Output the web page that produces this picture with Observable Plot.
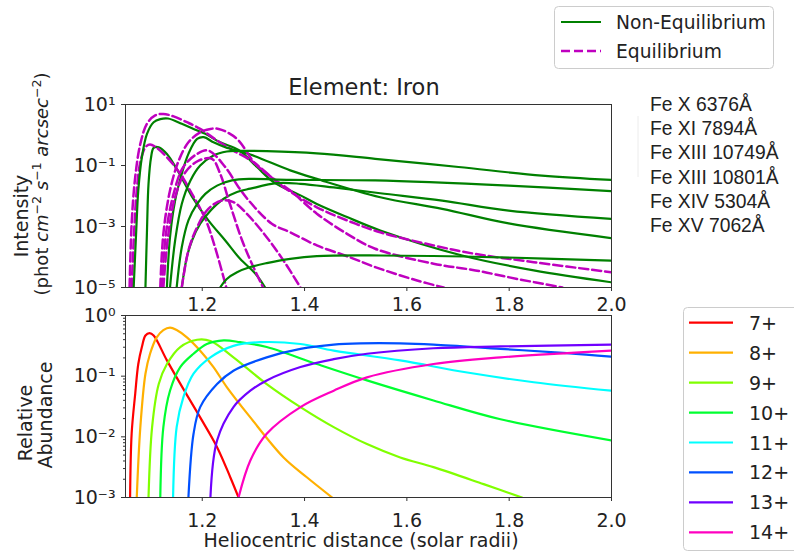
<!DOCTYPE html>
<html><head><meta charset="utf-8">
<script src="https://cdn.jsdelivr.net/npm/d3@7"></script>
<script src="https://cdn.jsdelivr.net/npm/@observablehq/plot@0.6"></script>
<style>
body{margin:0;background:#fff;}
#c{position:relative;width:794px;height:553px;overflow:hidden;background:#fff;}
#c svg{position:absolute;left:0;}
</style></head><body><div id="c"></div>
<script>
// ---------- DATA (heliocentric distance in solar radii; values stored as log10) ----------
// Top panel: Non-Equilibrium intensities (solid green)
const neQ_x   = [1.089,1.092,1.095,1.100,1.105,1.115,1.131,1.150,1.180,1.212,1.245,1.274,1.304,1.323];
const neQ_log = [-5,-3.13,-1.60,-0.73,-0.42,-0.40,-0.62,-1.11,-2.02,-2.80,-3.46,-4.06,-4.55,-5];
const neA_x   = [1.066,1.071,1.075,1.082,1.092,1.105,1.118,1.133,1.160,1.183,1.206,1.235,1.271,1.307,1.340,1.392,1.424,1.483,1.548,1.708,1.848,2.0];
const neA_log = [-5,-3.13,-1.82,-0.73,0.04,0.42,0.52,0.54,0.37,0.20,0.04,-0.24,-0.49,-1.05,-1.55,-1.98,-2.26,-2.69,-3.13,-3.95,-4.44,-4.83];
const neB_x   = [1.131,1.137,1.147,1.160,1.173,1.190,1.203,1.222,1.245,1.294,1.372,1.424,1.548,1.669,1.799,2.0];
const neB_log = [-5,-3.35,-2.15,-1.27,-0.62,-0.13,-0.07,-0.24,-0.40,-0.64,-1.16,-1.44,-2.04,-2.42,-2.90,-3.38];
const neC_x   = [1.137,1.147,1.160,1.177,1.196,1.222,1.248,1.271,1.326,1.424,1.538,1.701,1.864,2.0];
const neC_log = [-5,-3.46,-2.26,-1.49,-1.00,-0.67,-0.54,-0.52,-0.53,-0.60,-0.78,-1.05,-1.33,-1.47];
const neD_x   = [1.160,1.170,1.180,1.196,1.216,1.242,1.268,1.294,1.346,1.392,1.457,1.548,1.669,1.799,2.0];
const neD_log = [-5,-4.0,-3.46,-2.91,-2.48,-2.09,-1.87,-1.76,-1.58,-1.60,-1.72,-1.91,-2.15,-2.48,-2.75];
const neE_x   = [1.150,1.160,1.173,1.190,1.206,1.229,1.258,1.294,1.372,1.538,1.799,2.0];
const neE_log = [-5,-3.68,-2.80,-2.26,-1.93,-1.66,-1.49,-1.44,-1.47,-1.49,-1.66,-1.84];
const neF_x   = [1.235,1.248,1.268,1.294,1.326,1.372,1.424,1.548,1.783,2.0];
const neF_log = [-5,-4.72,-4.50,-4.33,-4.20,-4.06,-3.97,-3.95,-4.01,-4.12];

// Top panel: Equilibrium intensities (dashed magenta)
const eq0_x   = [1.062,1.067,1.072,1.079,1.089,1.098,1.111,1.131,1.157,1.180,1.206,1.225,1.247];
const eq0_log = [-5,-3.13,-1.82,-0.89,-0.40,-0.31,-0.42,-0.73,-1.27,-1.93,-2.75,-3.68,-5];
const eq1_x   = [1.058,1.062,1.069,1.079,1.092,1.108,1.124,1.144,1.170,1.196,1.229,1.261,1.300,1.359,1.424,1.483,1.548,1.652,1.734,1.848,2.0];
const eq1_log = [-5,-2.91,-1.38,-0.29,0.37,0.64,0.69,0.61,0.42,0.20,-0.18,-0.51,-0.89,-1.71,-2.37,-2.80,-3.19,-3.62,-3.90,-4.17,-4.50];
const eq2_x   = [1.118,1.124,1.137,1.154,1.173,1.196,1.216,1.232,1.252,1.271,1.304,1.340,1.372,1.424,1.483,1.538,1.652,1.734,1.816,1.904];
const eq2_log = [-5,-3.24,-1.82,-0.84,-0.24,0.09,0.20,0.20,0.06,-0.18,-0.95,-1.44,-1.82,-2.58,-3.24,-3.73,-4.22,-4.44,-4.72,-5];
const eq3_x   = [1.121,1.129,1.144,1.163,1.190,1.212,1.245,1.271,1.291,1.336,1.372,1.424,1.489,1.538,1.620,1.672];
const eq3_log = [-5,-3.24,-1.93,-1.05,-0.62,-0.51,-1.05,-1.71,-2.15,-2.91,-3.19,-3.62,-4.01,-4.33,-4.77,-5];
const eq4_x   = [1.124,1.133,1.147,1.167,1.193,1.219,1.235,1.252,1.278,1.300,1.319];
const eq4_log = [-5,-3.35,-2.04,-1.22,-0.84,-0.78,-1.27,-2.15,-3.46,-4.33,-5];
const eq5_x   = [1.160,1.173,1.190,1.212,1.238,1.261,1.287,1.326,1.359,1.392];
const eq5_log = [-5,-3.79,-3.02,-2.42,-2.15,-2.20,-2.58,-3.35,-4.12,-5];

// Bottom panel: relative abundance of Fe ions
const ionLabels = ["7+","8+","9+","10+","11+","12+","13+","14+"];
const ionColors = ["#ff0000","#ffb000","#80ff00","#00ff30","#00ffff","#0050ff","#7000ff","#ff00c0"];
const ab7_x   = [1.059,1.062,1.069,1.075,1.082,1.089,1.097,1.105,1.131,1.163,1.196,1.229,1.255,1.271];
const ab7_log = [-3,-1.95,-1.29,-0.80,-0.52,-0.33,-0.29,-0.33,-0.74,-1.21,-1.68,-2.17,-2.67,-3.0];
const ab8_x   = [1.072,1.079,1.089,1.098,1.111,1.124,1.137,1.150,1.170,1.196,1.222,1.248,1.294,1.359,1.405,1.454];
const ab8_log = [-3,-1.84,-0.96,-0.63,-0.36,-0.24,-0.20,-0.24,-0.36,-0.58,-0.85,-1.18,-1.68,-2.34,-2.67,-3.0];
const ab9_x   = [1.095,1.102,1.115,1.131,1.157,1.190,1.216,1.261,1.326,1.392,1.457,1.522,1.587,1.652,1.750,1.825];
const ab9_log = [-3,-1.84,-1.13,-0.80,-0.52,-0.40,-0.42,-0.69,-1.13,-1.51,-1.84,-2.12,-2.34,-2.50,-2.78,-3.0];
const ab10_x  = [1.118,1.124,1.137,1.157,1.183,1.209,1.242,1.274,1.326,1.424,1.522,1.652,1.783,2.0];
const ab10_log= [-3,-1.84,-1.24,-0.85,-0.63,-0.47,-0.41,-0.44,-0.52,-0.80,-1.07,-1.40,-1.71,-2.06];
const ab11_x  = [1.143,1.150,1.163,1.183,1.216,1.261,1.313,1.392,1.457,1.587,1.718,1.848,2.0];
const ab11_log= [-3,-1.84,-1.35,-0.96,-0.69,-0.50,-0.44,-0.47,-0.58,-0.74,-0.94,-1.10,-1.24];
const ab12_x  = [1.173,1.183,1.196,1.229,1.261,1.326,1.392,1.457,1.509,1.587,1.652,1.783,1.913,2.0];
const ab12_log= [-3,-1.95,-1.51,-1.13,-0.91,-0.69,-0.55,-0.48,-0.46,-0.46,-0.48,-0.55,-0.62,-0.68];
const ab13_x  = [1.216,1.229,1.261,1.294,1.326,1.392,1.457,1.522,1.652,1.783,2.0];
const ab13_log= [-3,-2.06,-1.51,-1.24,-1.07,-0.85,-0.72,-0.63,-0.54,-0.51,-0.48];
const ab14_x  = [1.271,1.294,1.326,1.392,1.457,1.522,1.652,1.783,1.913,2.0];
const ab14_log= [-3,-2.39,-1.95,-1.51,-1.24,-1.02,-0.80,-0.69,-0.62,-0.58];

// Tick values and labels
const xTicks = [1.2, 1.4, 1.6, 1.8, 2.0];
const xTickLabels = ["1.2","1.4","1.6","1.8","2.0"];
const topYTicks = [10, 0.1, 1e-3, 1e-5];
const topYTickLabels = ["10\u00b9","10\u207b\u00b9","10\u207b\u00b3","10\u207b\u2075"];
const botYTicks = [1, 0.1, 0.01, 1e-3];
const botYTickLabels = ["10\u2070","10\u207b\u00b9","10\u207b\u00b2","10\u207b\u00b3"];
const lineLabels = ["Fe X 6376\u00c5","Fe XI 7894\u00c5","Fe XIII 10749\u00c5","Fe XIII 10801\u00c5","Fe XIV 5304\u00c5","Fe XV 7062\u00c5"];

// ---------- BUILD ----------
const toRows = (xs, ls, s) => xs.map((x, i) => ({x, y: Math.pow(10, ls[i]), s}));
const neSeries = [[neQ_x,neQ_log],[neA_x,neA_log],[neB_x,neB_log],[neC_x,neC_log],[neD_x,neD_log],[neE_x,neE_log],[neF_x,neF_log]];
const eqSeries = [[eq0_x,eq0_log],[eq1_x,eq1_log],[eq2_x,eq2_log],[eq3_x,eq3_log],[eq4_x,eq4_log],[eq5_x,eq5_log]];
const abSeries = [[ab7_x,ab7_log],[ab8_x,ab8_log],[ab9_x,ab9_log],[ab10_x,ab10_log],[ab11_x,ab11_log],[ab12_x,ab12_log],[ab13_x,ab13_log],[ab14_x,ab14_log]];

const GREEN = "#008000", MAG = "#bf00bf", AX = "#333";
const CURVE = "catmull-rom";
const fmtFrom = (ticks, labels) => d => { const i = ticks.findIndex(t => Math.abs(t - d) / t < 1e-6); return i >= 0 ? labels[i] : ""; };
const xFmt = fmtFrom(xTicks, xTickLabels);
const baseStyle = {fontFamily: "DejaVu Sans", fontSize: "19px", color: "#222", background: "transparent", overflow: "visible"};

const topMarks = [];
const nTop = Math.max(neSeries.length, eqSeries.length);
for (let i = 0; i < nTop; i++) {
  if (neSeries[i]) topMarks.push(Plot.line(toRows(neSeries[i][0], neSeries[i][1], "ne"+i), {x:"x", y:"y", stroke: GREEN, strokeWidth: 2.2, curve: CURVE, clip: true}));
  if (eqSeries[i]) topMarks.push(Plot.line(toRows(eqSeries[i][0], eqSeries[i][1], "eq"+i), {x:"x", y:"y", stroke: MAG, strokeWidth: 2.5, strokeDasharray: "9,4", curve: CURVE, clip: true}));
}

const topPlot = Plot.plot({
  width: 794, height: 310,
  marginLeft: 125, marginRight: 183, marginTop: 104, marginBottom: 23,
  style: baseStyle,
  x: {domain: [1.05, 2.0]},
  y: {type: "log", domain: [1e-5, 10]},
  marks: [
    ...topMarks,
    Plot.frame({stroke: AX, strokeWidth: 1}),
    Plot.axisX({ticks: xTicks, tickFormat: xFmt, tickSize: 4, tickPadding: 6, label: null, stroke: AX}),
    Plot.axisY({ticks: topYTicks, tickFormat: fmtFrom(topYTicks, topYTickLabels), tickSize: 4, tickPadding: 6, label: null, stroke: AX})
  ]
});
topPlot.style.top = "0px";

const minorTicks = [];
for (const e of [-3, -2, -1]) for (let k = 2; k <= 9; k++) minorTicks.push(k * Math.pow(10, e));

const botPlot = Plot.plot({
  width: 794, height: 243,
  marginLeft: 125, marginRight: 183, marginTop: 5, marginBottom: 56,
  style: baseStyle,
  x: {domain: [1.05, 2.0]},
  y: {type: "log", domain: [1e-3, 1]},
  marks: [
    ...abSeries.map((s, i) => Plot.line(toRows(s[0], s[1], ionLabels[i]), {x:"x", y:"y", stroke: ionColors[i], strokeWidth: 2.2, curve: CURVE, clip: true})),
    Plot.frame({stroke: AX, strokeWidth: 1}),
    Plot.axisX({ticks: xTicks, tickFormat: xFmt, tickSize: 4, tickPadding: 12, label: null, stroke: AX}),
    Plot.axisY({ticks: minorTicks, tickFormat: () => "", tickSize: 2, label: null, stroke: AX}),
    Plot.axisY({ticks: botYTicks, tickFormat: fmtFrom(botYTicks, botYTickLabels), tickSize: 4, tickPadding: 6, label: null, stroke: AX})
  ]
});
botPlot.style.top = "310px";

const c = document.getElementById("c");
c.appendChild(topPlot);
c.appendChild(botPlot);

// ---------- OVERLAY TEXT & LEGENDS ----------
const ov = d3.select(c).append("svg").attr("width", 794).attr("height", 553)
  .style("top", "0px").style("font-family", "DejaVu Sans").style("fill", "#222");

ov.append("text").attr("x", 364).attr("y", 95).attr("text-anchor", "middle").style("font-size", "22.5px").text("Element: Iron");
ov.append("text").attr("x", 361).attr("y", 547).attr("text-anchor", "middle").style("font-size", "19px").text("Heliocentric distance (solar radii)");

const rot = (x, y) => `translate(${x},${y}) rotate(-90)`;
ov.append("text").attr("transform", rot(28, 216)).attr("text-anchor", "middle").style("font-size", "19px").text("Intensity");
const unit = ov.append("text").attr("transform", rot(48, 184)).attr("text-anchor", "middle").style("font-size", "18px");
unit.append("tspan").text("(phot ");
unit.append("tspan").style("font-style", "italic").text("cm");
unit.append("tspan").attr("dy", -7).style("font-size", "12.5px").text("\u22122");
unit.append("tspan").attr("dy", 7).text(" ");
unit.append("tspan").style("font-style", "italic").text("s");
unit.append("tspan").attr("dy", -7).style("font-size", "12.5px").text("\u22121");
unit.append("tspan").attr("dy", 7).text(" ");
unit.append("tspan").style("font-style", "italic").text("arcsec");
unit.append("tspan").attr("dy", -7).style("font-size", "12.5px").text("\u22122");
unit.append("tspan").attr("dy", 7).text(")");
ov.append("text").attr("transform", rot(32, 423)).attr("text-anchor", "middle").style("font-size", "19px").text("Relative");
ov.append("text").attr("transform", rot(52, 415)).attr("text-anchor", "middle").style("font-size", "19px").text("Abundance");

// Legend 1
ov.append("rect").attr("x", 554.5).attr("y", 6.5).attr("width", 219).attr("height", 62).attr("rx", 4)
  .attr("fill", "#fff").attr("stroke", "#cccccc");
ov.append("line").attr("x1", 561).attr("x2", 601).attr("y1", 22).attr("y2", 22).attr("stroke", GREEN).attr("stroke-width", 2.2);
ov.append("line").attr("x1", 561).attr("x2", 601).attr("y1", 51).attr("y2", 51).attr("stroke", MAG).attr("stroke-width", 2.5).attr("stroke-dasharray", "9,4");
ov.append("text").attr("x", 616).attr("y", 28.5).style("font-size", "18.7px").text("Non-Equilibrium");
ov.append("text").attr("x", 616).attr("y", 57.5).style("font-size", "18.7px").text("Equilibrium");

// Spectral line labels
ov.append("line").attr("x1", 638).attr("x2", 638).attr("y1", 116).attr("y2", 177).attr("stroke", "#ececec");
lineLabels.forEach((t, i) => {
  ov.append("text").attr("x", 650).attr("y", 111 + i * 24.2).style("font-family", "Liberation Sans").style("font-size", "19.3px").text(t);
});

// Legend 2
ov.append("rect").attr("x", 683.5).attr("y", 307.5).attr("width", 130).attr("height", 243).attr("rx", 4)
  .attr("fill", "#fff").attr("stroke", "#cccccc");
ionLabels.forEach((t, i) => {
  const y = 322.7 + i * 29.95;
  ov.append("line").attr("x1", 689).attr("x2", 733).attr("y1", y).attr("y2", y).attr("stroke", ionColors[i]).attr("stroke-width", 2.2);
  ov.append("text").attr("x", 749).attr("y", y + 7).style("font-size", "19px").text(t);
});
</script></body></html>
